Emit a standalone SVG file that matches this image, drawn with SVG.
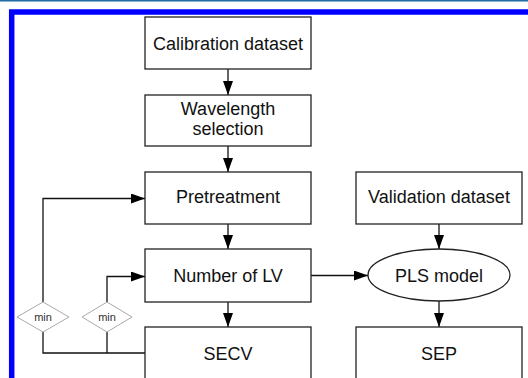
<svg xmlns="http://www.w3.org/2000/svg" width="528" height="378" viewBox="0 0 528 378">
<defs>
<style>
.box{fill:#fff;stroke:#222;stroke-width:1.3}
.lbl{font-family:"Liberation Sans",Arial,sans-serif;font-size:18px;fill:#111;text-anchor:middle}
.dia{fill:#fff;stroke:#aaa;stroke-width:1}
.sm{font-family:"Liberation Sans",Arial,sans-serif;font-size:11px;fill:#333;text-anchor:middle}
.ln{fill:none;stroke:#111;stroke-width:1.3}
</style>
<marker id="ah" markerUnits="userSpaceOnUse" markerWidth="14" markerHeight="10" refX="14" refY="5" orient="auto">
<path d="M0,0 L14,5 L0,10 z" fill="#000"/>
</marker>
</defs>
<rect x="0" y="0" width="528" height="378" fill="#fff"/>
<rect x="0" y="0" width="528" height="1.5" fill="#1f6ea8"/>
<path d="M11.7,378 V12 H528" fill="none" stroke="#0000ff" stroke-width="5.5"/>
<g id="connectors">
<line class="ln" x1="228" y1="69" x2="228" y2="95" marker-end="url(#ah)"/>
<line class="ln" x1="228" y1="146" x2="228" y2="172" marker-end="url(#ah)"/>
<line class="ln" x1="228" y1="224" x2="228" y2="249" marker-end="url(#ah)"/>
<line class="ln" x1="228" y1="302" x2="228" y2="327" marker-end="url(#ah)"/>
<line class="ln" x1="439" y1="224" x2="439" y2="249" marker-end="url(#ah)"/>
<line class="ln" x1="439" y1="300" x2="439" y2="327" marker-end="url(#ah)"/>
<line class="ln" x1="311" y1="275.5" x2="368" y2="275.5" marker-end="url(#ah)"/>
<path class="ln" d="M43,302 V198.5 H145" marker-end="url(#ah)"/>
<path class="ln" d="M107,302 V276.5 H145" marker-end="url(#ah)"/>
<path class="ln" d="M43,332 V353 H145"/>
<line class="ln" x1="107" y1="332" x2="107" y2="353"/>
</g>
<g id="calibration"><rect class="box" x="145" y="17" width="166" height="52"/><text class="lbl" x="228" y="49.5">Calibration dataset</text></g>
<g id="wavelength"><rect class="box" x="145" y="95" width="166" height="51"/><text class="lbl" x="228" y="115">Wavelength</text><text class="lbl" x="228" y="135">selection</text></g>
<g id="pretreatment"><rect class="box" x="145" y="172" width="166" height="52"/><text class="lbl" x="228" y="203">Pretreatment</text></g>
<g id="validation"><rect class="box" x="356" y="172" width="166" height="52"/><text class="lbl" x="439" y="203">Validation dataset</text></g>
<g id="numlv"><rect class="box" x="145" y="249" width="166" height="53"/><text class="lbl" x="228" y="282">Number of LV</text></g>
<g id="pls"><ellipse class="box" cx="439" cy="275" rx="71" ry="26"/><text class="lbl" x="439" y="282">PLS model</text></g>
<g id="secv"><rect class="box" x="145" y="327" width="166" height="60"/><text class="lbl" x="228" y="360">SECV</text></g>
<g id="sep"><rect class="box" x="356" y="327" width="166" height="60"/><text class="lbl" x="439" y="360">SEP</text></g>
<g id="min1"><path class="dia" d="M43,302 L69,317 L43,332 L17,317 z"/><text class="sm" x="43" y="321">min</text></g>
<g id="min2"><path class="dia" d="M107,302 L132,317 L107,332 L82,317 z"/><text class="sm" x="107" y="321">min</text></g>
</svg>
